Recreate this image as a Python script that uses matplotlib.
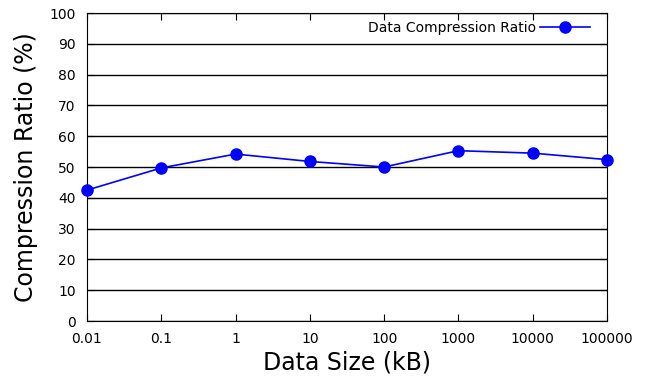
import matplotlib
matplotlib.use("Agg")
from matplotlib import pyplot as plt

data_sizes = [0.01, 0.1, 1, 10, 100, 1000, 10000, 100000]
size_labels = ["0.01", "0.1", "1", "10", "100", "1000", "10000", "100000"]
compression_ratio = [42.5, 49.7, 54.2, 51.8, 50.0, 55.3, 54.5, 52.4]

fig = plt.figure(figsize=(6.51, 3.77), dpi=100)
ax = fig.add_axes([0.1336, 0.1485, 0.7988, 0.817])

ax.plot(data_sizes, compression_ratio, color="blue", linewidth=1.2,
        marker="o", markersize=8, label="Data Compression Ratio", clip_on=False, zorder=3)

ax.set_xscale("log")
ax.set_xlim(0.01, 100000)
ax.set_ylim(0, 100)
ax.set_xticks(data_sizes)
ax.set_xticklabels(size_labels)
ax.minorticks_off()
ax.set_yticks(range(0, 101, 10))
ax.yaxis.grid(True, color="black", linewidth=1)
ax.tick_params(direction="in", top=True, right=True, labelsize=10, length=5)
ax.tick_params(axis="x", pad=8)
ax.tick_params(axis="y", pad=8)

ax.set_xlabel("Data Size (kB)", fontsize=17, labelpad=3)
ax.set_ylabel("Compression Ratio (%)", fontsize=17, labelpad=8)

ax.legend(loc="upper right", frameon=False, markerfirst=False, fontsize=10,
          handlelength=3.6, handletextpad=0.3,
          bbox_to_anchor=(0.983, 1.0), borderaxespad=0.2)

fig.savefig("out.png", dpi=100)
